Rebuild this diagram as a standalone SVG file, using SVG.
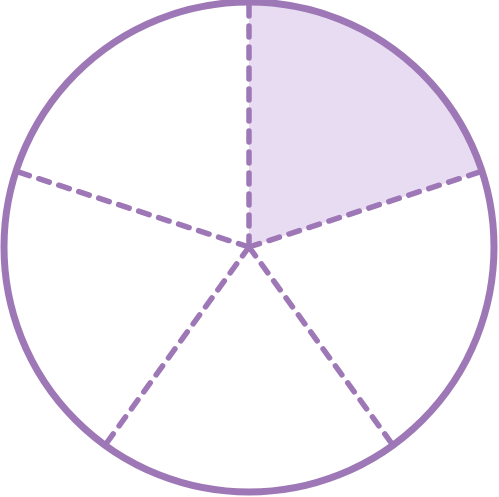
<svg xmlns="http://www.w3.org/2000/svg" width="499" height="497" viewBox="0 0 499 497">
<style>
.spoke{stroke:#9e78b6;stroke-width:5.5;stroke-dasharray:11 10;stroke-linecap:round;fill:none}
.rim{fill:none;stroke:#9e78b6;stroke-width:7}
</style>
<rect width="499" height="497" fill="#fff"/>
<g id="sector">
<path d="M249,247 L249,2 A245,245 0 0 1 482,171.3 Z" fill="#e8dcf3"/>
</g>
<g id="connectors">
<line class="spoke" x1="249" y1="247" x2="249" y2="4"/>
<line class="spoke" x1="249" y1="247" x2="482" y2="171.3"/>
<line class="spoke" x1="249" y1="247" x2="393" y2="445.2"/>
<line class="spoke" x1="249" y1="247" x2="105" y2="445.2"/>
<line class="spoke" x1="249" y1="247" x2="16" y2="171.3"/>
</g>
<g id="circle">
<circle class="rim" cx="249" cy="247" r="245"/>
</g>
</svg>
